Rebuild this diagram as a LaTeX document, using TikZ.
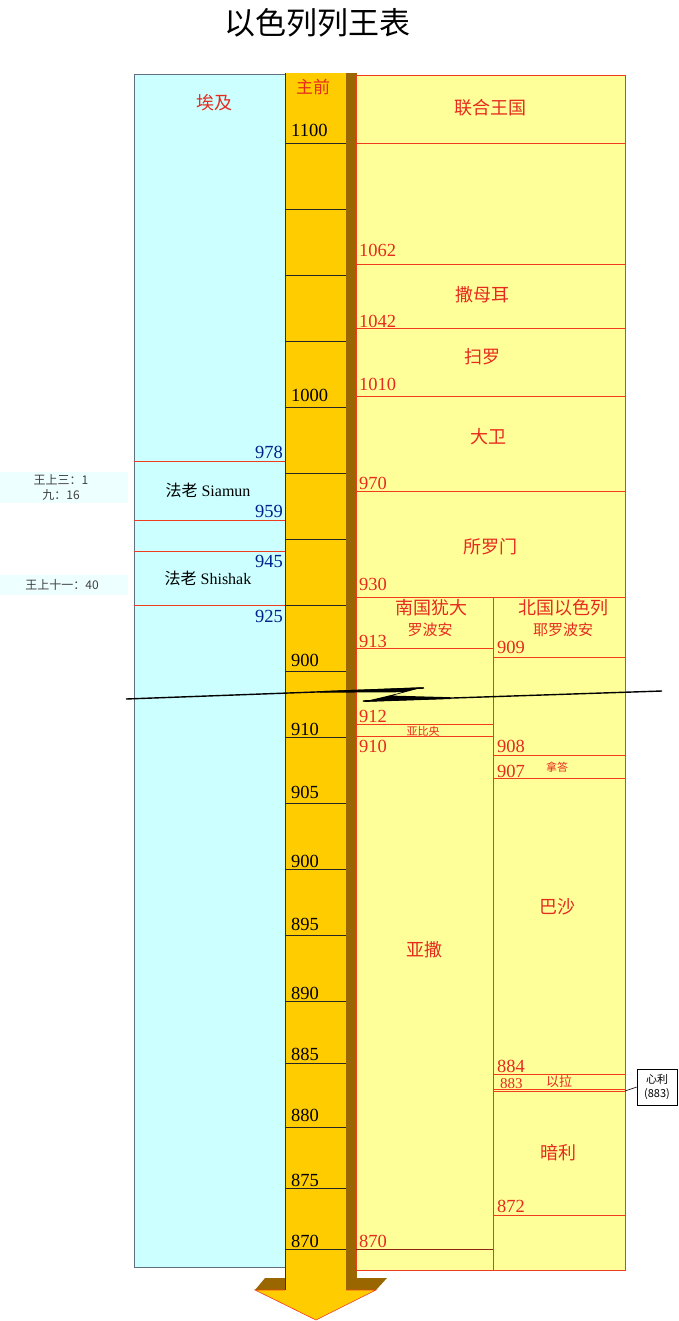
\documentclass[tikz,border=0pt]{standalone}
\usepackage{fontspec}
\setmainfont{Liberation Serif}
\newfontfamily\cjk{Noto Sans CJK SC}
\definecolor{cyanbg}{HTML}{CCFFFF}
\definecolor{notebg}{HTML}{EEFFFF}
\definecolor{orangec}{HTML}{FFCC00}
\definecolor{brownc}{HTML}{996600}
\definecolor{yellowc}{HTML}{FFFF99}
\definecolor{kline}{HTML}{F03C1E}
\definecolor{kred}{HTML}{E62A1E}
\definecolor{kblue}{HTML}{00208C}
\definecolor{egyptgrey}{HTML}{607080}
\definecolor{notegrey}{HTML}{404040}
\begin{document}
\begin{tikzpicture}[x=1pt,y=-1pt,
  redline/.style={draw=kline,line width=0.8pt},
  tickline/.style={draw=black!85,line width=0.8pt},
  numlbl/.style={inner sep=0pt,anchor=base west,font=\fontsize{18.5}{20}\selectfont},
  rednum/.style={numlbl,text=kred},
  bluenum/.style={inner sep=0pt,anchor=base east,font=\fontsize{18.5}{20}\selectfont,text=kblue},
  reglbl/.style={inner sep=0pt,text=kred,font=\cjk\fontsize{18}{20}\selectfont},
  sublbl/.style={inner sep=0pt,text=kred,font=\cjk\fontsize{15}{17}\selectfont},
  smalllbl/.style={inner sep=0pt,text=kred,font=\cjk\fontsize{11}{13}\selectfont},
  pharaoh/.style={inner sep=0pt,text=black,font=\fontsize{16}{18}\selectfont},
  notelbl/.style={inner sep=0pt,text=notegrey,font=\cjk\fontsize{12}{14}\selectfont},
  calloutbox/.style={draw=black,fill=white,line width=0.6pt,minimum width=40pt,minimum height=36pt,inner sep=1pt,align=center,font=\cjk\fontsize{11}{14}\selectfont}
]
\useasboundingbox (0,0) rectangle (678,1321);
% title
\node[inner sep=0pt,font=\cjk\fontsize{31}{33}\selectfont] (title) at (317,23) {以色列列王表};

% notes on the far left
\fill[notebg] (0,472) rectangle (128,503);
\fill[notebg] (0,575) rectangle (128,595);
\node[notelbl] (n1) at (61,480) {王上三：1};
\node[notelbl] (n2) at (61,495) {九：16};
\node[notelbl] (n3) at (62,585) {王上十一：40};

% Egypt column
\fill[cyanbg] (134,75) rectangle (285,1267);
\draw[egyptgrey,line width=1pt] (134,75) rectangle (285,1267);
\node[reglbl] (egypt) at (214,103) {埃及};
\foreach \yy in {461,520,551,605} \draw[redline] (134,\yy) -- (285,\yy);
\node[pharaoh] (siamun) at (208,490) {{\cjk 法老} Siamun};
\node[pharaoh] (shishak) at (208,578) {{\cjk 法老} Shishak};
\node[bluenum] (e978) at (283,458) {978};
\node[bluenum] (e959) at (283,517) {959};
\node[bluenum] (e945) at (283,567) {945};
\node[bluenum] (e925) at (283,622) {925};

% time shaft and 3-D arrow
\fill[brownc] (346,73) rectangle (357,1278);
\fill[brownc] (265,1278) -- (285,1278) -- (285,1290) -- (255,1290) -- cycle;
\fill[brownc] (346,1278) -- (387,1278) -- (376,1290) -- (346,1290) -- cycle;
\fill[orangec] (285,73) rectangle (346,1290);
\filldraw[fill=orangec,draw=kline,line width=0.6pt] (255,1290) -- (376,1290) -- (316,1320) -- cycle;
\fill[orangec] (285.4,1285) rectangle (345.6,1291);
\draw[black!80,line width=0.8pt] (285,73) -- (285,1290);
\node[inner sep=0pt,text=kred,font=\cjk\fontsize{17}{19}\selectfont] (zhuqian) at (313,87) {主前};
\foreach \yy in {143,209,275,341,407,473,539,605,671,737,803,869,935,1001,1063,1127,1188,1249}
  \draw[tickline] (285,\yy) -- (346,\yy);
\foreach \lab/\yy [count=\i] in {1100/137,1000/401,900/666,910/735,905/798,900/867,895/930,890/999,885/1060,880/1121,875/1186,870/1247}
  \node[numlbl] (s\i) at (291,\yy) {\lab};

% kingdoms column
\fill[yellowc] (356,75) rectangle (625,1270);
\draw[redline] (356,75) rectangle (625,1270);
\foreach \yy in {143,264,328,396,491,597} \draw[redline] (356,\yy) -- (625,\yy);
\draw[redline] (493,597) -- (493,1270);
% south
\foreach \yy in {648,724,736} \draw[redline] (356,\yy) -- (493,\yy);
\draw[draw=kline!60!black,line width=0.8pt] (356,1249) -- (493,1249);
% north
\foreach \yy in {657,755,778,1074,1089.5,1215} \draw[redline] (493,\yy) -- (625,\yy);
\draw[redline,line width=1.2pt] (493,1091.5) -- (625,1091.5);

\node[reglbl] (uk) at (490,108) {联合王国};
\node[reglbl] (samuel) at (482,295) {撒母耳};
\node[reglbl] (saul) at (482,357) {扫罗};
\node[reglbl] (david) at (488,437) {大卫};
\node[reglbl] (solomon) at (490,547) {所罗门};
\node[reglbl] (judah) at (431,608) {南国犹大};
\node[sublbl] (rehoboam) at (430,630) {罗波安};
\node[reglbl] (israel) at (563,608) {北国以色列};
\node[sublbl] (jeroboam) at (563,630) {耶罗波安};
\node[smalllbl] (abijah) at (423,731) {亚比央};
\node[smalllbl] (nadab) at (557,767) {拿答};
\node[reglbl] (asa) at (424,950) {亚撒};
\node[reglbl] (baasha) at (557,907) {巴沙};
\node[inner sep=0pt,text=kred,font=\cjk\fontsize{13}{15}\selectfont] (elah) at (559,1082) {以拉};
\node[reglbl] (omri) at (558,1153) {暗利};

\foreach \lab/\yy [count=\i] in {1062/257,1042/327,1010/390,970/489,930/590,913/647,912/722,910/752,870/1247}
  \node[rednum] (m\i) at (359,\yy) {\lab};
\foreach \lab/\yy [count=\i] in {909/653,908/752,907/777,884/1072,872/1212}
  \node[rednum] (k\i) at (497,\yy) {\lab};
\node[rednum,font=\fontsize{15}{17}\selectfont] (k883) at (500,1088) {883};

% callout
\node[calloutbox] (zimri) at (657,1087) {心利\\(883)};
\coordinate (zimrip) at (625,1091);
\draw[black,line width=0.6pt] (zimri.west) -- (zimrip);

% break mark (Z-shaped)
\draw[black,line width=1.4pt] (126,699) -- (424,688);
\draw[black,line width=1.4pt] (363,701) -- (662,691);
\fill[black] (320,691.2) -- (424,687.2) -- (392,695.6) -- (450,697.2) -- (450,699)
  -- (362,702) -- (403,692.2) -- (320,692.7) -- cycle;
\end{tikzpicture}
\end{document}
